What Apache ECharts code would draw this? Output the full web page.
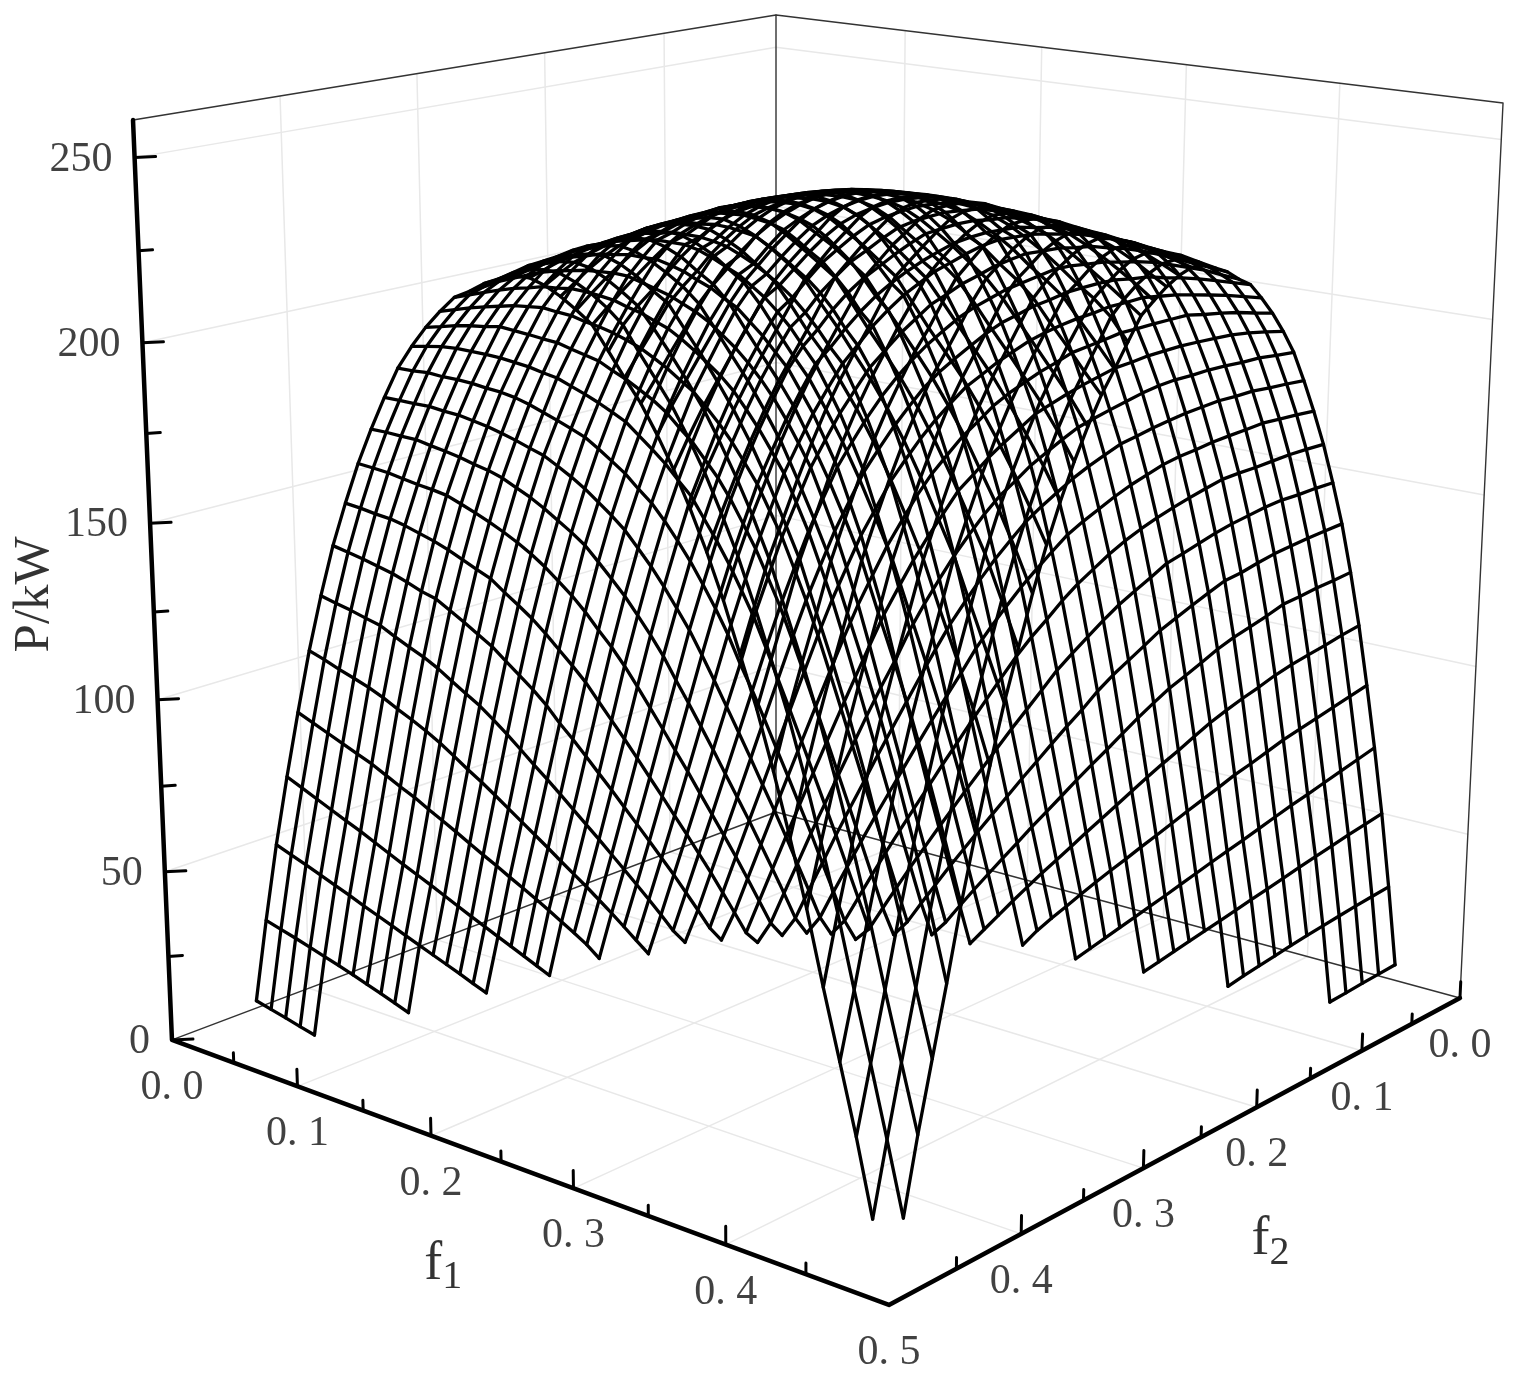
<!DOCTYPE html>
<html>
<head>
<meta charset="utf-8">
<title>P vs f1 f2</title>
<script src="https://cdn.jsdelivr.net/npm/echarts@6/dist/echarts.min.js"></script>
<style>
html, body { margin: 0; background: #fff; }
#main { width: 1518px; height: 1382px; }
</style>
</head>
<body>
<div id="main"></div>
<script>
const fGrid = [0.07, 0.08, 0.09, 0.10, 0.11, 0.12, 0.13, 0.14, 0.15, 0.16, 0.17, 0.18, 0.19, 0.20, 0.21, 0.22, 0.23, 0.24, 0.25, 0.26, 0.27, 0.28,
	0.29, 0.30, 0.31, 0.32, 0.33, 0.34, 0.35, 0.36, 0.37, 0.38, 0.39, 0.40, 0.41, 0.42, 0.43, 0.44, 0.45, 0.46, 0.47, 0.48, 0.49, 0.50];

// P in kW, one row per f1 in fGrid. Each row runs up to f2 = 0.50, the surface is mirrored over f1 = f2
const powerRows = [
	[4.5, 8.6, 12.8, 16.9, 21],
	[3, 7.5, 11.9, 16.2, 20.6, 24.9, 29.1, 33.3, 37.5, 41.6, 45.7],
	[2.5, 6.9, 11.4, 15.8, 20.2, 24.6, 29, 33.5, 37.9, 42.3, 46.8, 51.2, 55.6, 60, 64.3, 68.6],
	[3, 7.5, 12, 16.5, 21, 25.5, 30, 34.6, 39.2, 43.8, 48.3, 52.8, 57.4, 62, 66.6, 71, 75.5, 80, 84.5, 89],
	[5, 10.8, 15.9, 20.8, 25.8, 30.7, 35.5, 40.2, 45, 49.7, 54.5, 59.3, 64, 68.7, 73.5, 77.9, 82.5, 87.1, 91.3, 95.5, 99.7, 103.9, 108.1],
	[3.2, 8.9, 14.6, 20.3, 25.8, 31.3, 36.6, 41.9, 47.3, 52.6, 57.9, 63.2, 68.5, 73.7, 78.7, 83.9, 89, 93.7, 98.2, 102.5, 107, 111.1, 114.9, 118.6, 122.5, 126.2],
	[5, 10.2, 16.6, 22.8, 28.9, 34.9, 40.9, 46.9, 52.7, 58.6, 64.5, 70.3, 75.9, 81.7, 87.4, 92.9, 98.2, 102.9, 107.7, 112.6, 117, 121, 125.1, 129.4, 132.6, 135.9, 139, 142.2],
	[4, 9.3, 16.4, 23.3, 30.2, 36.8, 43.4, 49.9, 56.4, 62.9, 69.2, 75.6, 81.9, 87.9, 94.4, 100.2, 105.5, 110.8, 116.2, 120.8, 125.4, 129.9, 134.3, 137.5, 141.2, 144.7, 147.8, 150.9, 153.8, 156.7],
	[1.5, 6.1, 13.9, 21.6, 29.2, 36.5, 43.8, 50.9, 58.1, 65.1, 72.2, 79.2, 86, 92.8, 99.7, 105.7, 111.5, 117.3, 122.8, 127.7, 132.5, 137.5, 141.2, 145, 148.8, 152.3, 155.5, 158.7, 161.6, 164, 166.6, 169],
	[3.5, 8.9, 17.3, 25.7, 33.9, 41.9, 49.7, 57.5, 65.4, 73, 80.7, 88.2, 95.7, 103, 109.7, 115.8, 122.2, 128, 133.2, 138.4, 143.1, 147.4, 151.4, 155.2, 158.8, 162.3, 165.7, 168.3, 170.7, 173.3, 175.9, 178.2, 180.4],
	[4, 10.2, 19.5, 28.5, 37.4, 46.2, 54.7, 63.2, 71.7, 80, 88.2, 96.2, 104.5, 111.8, 118.7, 125.4, 131.5, 137.4, 143.2, 147.9, 152.3, 156.7, 160.8, 164.5, 168.2, 171.3, 174, 176.9, 179.5, 182, 184.6, 186.5, 188.5, 190.3],
	[20.2, 29.9, 39.7, 49.1, 58.3, 67.6, 76.7, 85.7, 94.7, 103.4, 111.9, 119.4, 126.8, 133.7, 140, 146.2, 151.4, 156.2, 161, 165.3, 169.3, 173.2, 176.2, 179.3, 182.2, 185, 187.5, 190, 192, 194.2, 195.9, 197.7, 199.4],
	[40.5, 50.6, 60.7, 70.6, 80.6, 90.3, 99.4, 109.3, 118, 126.1, 133.9, 140.9, 147.6, 153.7, 158.7, 164, 168.5, 172.9, 177.1, 180.4, 183.6, 186.7, 189.8, 192.6, 195, 197, 199.2, 201.1, 202.8, 204.8, 206.2, 207.8],
	[61.5, 72.3, 83, 93.5, 103.9, 114.1, 123, 131.7, 139.6, 147, 154.4, 159.9, 165.6, 170.6, 175.4, 180.2, 183.8, 187.3, 190.6, 193.7, 196.8, 199.1, 201.6, 203.7, 205.8, 207.6, 209.3, 211, 212.3, 213.3, 214.2],
	[83.8, 95.2, 106.4, 117.1, 126.7, 136.1, 144.3, 152.3, 159.4, 165.5, 171.5, 176.5, 181.7, 186, 189.8, 193.5, 196.8, 200.3, 202.8, 205.3, 207.9, 209.8, 211.8, 213.7, 215.6, 216.5, 217.6, 218.5, 219.1, 219.8],
	[107.3, 118.7, 129.1, 139.3, 147.9, 156.5, 163.5, 170.3, 176.4, 181.9, 187.2, 191.3, 195.5, 199.2, 202.8, 205.8, 208.6, 211.1, 213.3, 215.8, 217.6, 219.6, 220.7, 221.8, 222.5, 223.2, 223.8, 224.2, 224.6],
	[129.8, 140.7, 150.1, 159.4, 166.7, 173.8, 180.2, 186.3, 191.4, 195.8, 200.1, 204.2, 207.9, 210.8, 213.8, 216.2, 218.9, 220.9, 222.8, 224.4, 225.4, 226.6, 227.1, 227.8, 228.2, 228.5, 228.7, 228.9],
	[150.9, 160.9, 168.8, 176.4, 183.3, 189.4, 194.9, 199.9, 204.3, 208.6, 212.2, 215.3, 218.4, 220.9, 223.4, 225.9, 227.5, 228.7, 229.9, 230.6, 231.4, 231.9, 232, 232, 232, 231.5, 231.1],
	[169.5, 177.9, 185.1, 192.2, 197.6, 203, 207.7, 212.4, 215.8, 219.4, 222.3, 225.4, 227.9, 230.2, 231.5, 233, 233.8, 234.8, 235.1, 235.6, 235.7, 235.5, 235.1, 234.6, 234.2, 233.8],
	[185.8, 193.4, 199.2, 205.2, 210.3, 215, 218.9, 222.8, 225.8, 228.9, 231.7, 233.9, 235.3, 236.7, 237.5, 238.1, 238.7, 238.9, 239.1, 238.8, 238.1, 237.7, 237.4, 236.5, 235.6],
	[198.7, 204.6, 210, 214.9, 219.1, 222.9, 226.4, 229.5, 232.5, 234.7, 236.6, 238, 239.4, 239.9, 240.7, 240.9, 240.6, 240.4, 240.1, 240, 239.3, 238.5, 237.8, 237.1],
	[210.7, 216, 220.5, 224.3, 228.2, 231.8, 235.1, 237.1, 239, 240.5, 241.4, 242.6, 243.1, 243.5, 243.3, 242.7, 242.5, 242.1, 241.4, 240.6, 239.8, 238.6, 237.4],
	[221, 225.8, 229.4, 233.2, 236.7, 239.1, 241, 242.8, 243.9, 244.9, 245.2, 245.4, 245.2, 245.1, 244.9, 244.2, 243.5, 242.7, 241.6, 240.3, 238.4, 236.2],
	[230, 234.1, 237.7, 240.3, 242.5, 244.4, 245.7, 246.6, 247.4, 247.4, 247.2, 247.1, 246.8, 246.2, 245.5, 244.7, 243.5, 241.8, 239.6, 236.9, 234.2],
	[238.1, 241.1, 243.5, 245.5, 247, 248.1, 248.9, 249, 248.9, 249.1, 248.5, 247.8, 247.3, 246.2, 244.9, 242.8, 240.4, 237.7, 234.8, 231.6],
	[243.9, 246.2, 248, 249.2, 249.9, 250.2, 250.4, 250.4, 249.9, 249.4, 248.8, 247.5, 246.1, 243.8, 241.1, 238.2, 235.2, 232, 228.7],
	[248.3, 249.8, 250.7, 251.2, 251.4, 251.6, 251.2, 250.7, 250.2, 249, 247.2, 244.7, 242, 238.8, 235.4, 232.4, 228.5, 223],
	[251, 251.7, 252.2, 252.4, 252, 251.6, 250.9, 249.9, 247.9, 245.5, 242.7, 239.2, 236.2, 232.8, 227.5, 222.5, 217.2],
	[252.5, 252.9, 252.7, 252.4, 251.8, 250.6, 248.8, 246.1, 243.3, 239.8, 236.6, 232.7, 227.3, 222.2, 216.8, 211.7],
	[253, 252.9, 252.3, 251.2, 249.1, 246.4, 243.6, 240.3, 237, 232.6, 227.2, 221.9, 216.5, 211, 204.8],
	[252.6, 251.6, 249.6, 246.6, 243.7, 240.7, 237.2, 232.3, 226.8, 221.5, 216, 210.4, 204, 197.1],
	[249.8, 247, 244.2, 240.8, 237.4, 232.1, 226.7, 221.3, 215.9, 209.7, 203.1, 196.2, 188.3],
	[244.3, 241.1, 237.9, 232.2, 226.5, 221.2, 215.8, 209.5, 202.6, 195.2, 187.1, 178.5],
	[238, 232.4, 227.1, 221.7, 216.1, 209.7, 202.6, 194.5, 186.5, 177.4, 167.5],
	[226.7, 221.4, 215.7, 209.4, 202.1, 194.1, 185.4, 176.7, 166, 155],
	[215.8, 209.4, 202.2, 194, 185.1, 176.1, 164.8, 153.7, 142.5],
	[202.2, 194, 185, 175.6, 163.9, 152.8, 141.1, 128],
	[185, 175.6, 163.7, 152.1, 140, 126.6, 112.3],
	[163.5, 151.8, 139.4, 125.6, 111, 95.6],
	[139.2, 125.3, 110.2, 94.4, 76.8],
	[110, 93.7, 75.9, 59],
	[75.6, 58.3, 41],
	[40, 21],
	[]
];

const fTicks = [0, 0.1, 0.2, 0.3, 0.4, 0.5];
const fMinorTicks = [0.05, 0.15, 0.25, 0.35, 0.45];
const fTickLabels = ['0. 0', '0. 1', '0. 2', '0. 3', '0. 4', '0. 5'];
const pTicks = [0, 50, 100, 150, 200, 250];
const pMinorTicks = [25, 75, 125, 175, 225];
const pTickLabels = ['0', '50', '100', '150', '200', '250'];
const F_MAX = 0.5;
const P_MAX = 260;

// the box as drawn in the figure, fitted on its visible corners
function project(f1, f2, p) {
	const X = f1 / F_MAX, Y = f2 / F_MAX, Z = p / P_MAX;
	const w = 1 - 0.12895 * X - 0.14872 * Y - 0.0516 * Z;
	return [
		(495.7 * X - 629.6 * Y + 776 - 40.04 * Z) / w,
		(57.3 * X + 73.3 * Y + 812 + Z * (-797.8 + 12.9 * X + 8.5 * Y)) / w
	];
}

function powerAt(i, j) {
	const row = powerRows[Math.min(i, j)];
	const k = Math.max(i, j) - (fGrid.length - row.length);
	return k >= 0 && k < row.length ? row[k] : null;
}

function line(points, color, width) {
	return {
		type: 'line',
		data: points,
		symbol: 'none',
		silent: true,
		animation: false,
		clip: false,
		lineStyle: { color: color, width: width, cap: 'round', join: 'round' }
	};
}

function path3d(list, color, width) {
	return line(list.map(p => project(p[0], p[1], p[2])), color, width);
}

const series = [];
const GRID_COLOR = '#e8e8e8';
const EDGE_COLOR = '#333';

// pale grid on the floor and both back walls
fTicks.slice(1, -1).forEach(f => {
	series.push(path3d([[f, F_MAX, 0], [f, 0, 0], [f, 0, P_MAX]], GRID_COLOR, 1.5));
	series.push(path3d([[F_MAX, f, 0], [0, f, 0], [0, f, P_MAX]], GRID_COLOR, 1.5));
});
pTicks.slice(1).forEach(p => {
	series.push(path3d([[0, F_MAX, p], [0, 0, p], [F_MAX, 0, p]], GRID_COLOR, 1.5));
});

// thin box edges
series.push(path3d([[0, F_MAX, 0], [0, 0, 0], [F_MAX, 0, 0]], EDGE_COLOR, 1.4));
series.push(path3d([[0, 0, 0], [0, 0, P_MAX]], EDGE_COLOR, 1.4));
series.push(path3d([[0, F_MAX, P_MAX], [0, 0, P_MAX], [F_MAX, 0, P_MAX], [F_MAX, 0, 0]], EDGE_COLOR, 1.4));

// the surface, one wire per grid value in both directions
fGrid.forEach((fixed, i) => {
	const alongF2 = [], alongF1 = [];
	fGrid.forEach((moving, j) => {
		const p = powerAt(i, j);
		if (p === null) return;
		alongF2.push(project(fixed, moving, p));
		alongF1.push(project(moving, fixed, p));
	});
	series.push(line(alongF2, '#000', 3.3));
	series.push(line(alongF1, '#000', 3.3));
});

// bold axes and their ticks
series.push(path3d([[0, F_MAX, P_MAX], [0, F_MAX, 0], [F_MAX, F_MAX, 0], [F_MAX, 0, 0]], '#000', 4.5));
function floorTicks(list, height) {
	list.forEach(f => {
		if (f === F_MAX) return;
		series.push(path3d([[f, F_MAX, 0], [f, F_MAX, height]], '#000', 3));
		series.push(path3d([[F_MAX, f, 0], [F_MAX, f, height]], '#000', 3));
	});
}
floorTicks(fTicks.slice(1), 5);
floorTicks(fMinorTicks, 3);
series.push(path3d([[F_MAX, 0, 0], [F_MAX, 0, 5]], '#000', 3));
function powerTicks(list, length) {
	list.forEach(p => {
		const a = project(0, F_MAX, p);
		series.push(line([a, [a[0] + length, a[1] - 1]], '#000', 3));
	});
}
powerTicks(pTicks, 21);
powerTicks(pMinorTicks, 14);

// all text
const labelData = [];
function addLabel(name, at, dx, dy, style) {
	labelData.push({
		name: name,
		value: [at[0] + dx, at[1] + dy],
		label: Object.assign({ show: true, position: 'inside', formatter: '{b}', fontFamily: 'Liberation Serif', fontSize: 42, color: '#111' }, style)
	});
}
fTicks.forEach((f, i) => {
	addLabel(fTickLabels[i], project(f, F_MAX, 0), 0, 48);
	if (f !== F_MAX) addLabel(fTickLabels[i], project(F_MAX, f, 0), 0, 48);
});
pTicks.forEach((p, i) => {
	addLabel(pTickLabels[i], project(0, F_MAX, p), -22, 2, { align: 'right' });
});
addLabel('P/kW', project(0, F_MAX, 130), -118, 0, { rotate: 90, fontSize: 51, color: '#000' });
function subLabel(name, sub, at) {
	addLabel(name + sub, at, 0, 0, {
		formatter: '{a|' + name + '}{b|' + sub + '}',
		rich: {
			a: { fontFamily: 'Liberation Serif', fontSize: 54, color: '#000' },
			b: { fontFamily: 'Liberation Serif', fontSize: 40, color: '#000', padding: [26, 0, 0, 0] }
		}
	});
}
subLabel('f', '1', project(0.28, F_MAX, 0).map((v, i) => v + [-101, 87][i]));
subLabel('f', '2', project(F_MAX, 0.3, 0).map((v, i) => v + [127, 72][i]));
series.push({ type: 'scatter', symbolSize: 0, silent: true, animation: false, clip: false, data: labelData, z: 5 });

const chart = echarts.init(document.getElementById('main'));
chart.setOption({
	backgroundColor: '#fff',
	grid: { left: 0, right: 0, top: 0, bottom: 0 },
	xAxis: { type: 'value', min: 0, max: 1518, show: false },
	yAxis: { type: 'value', min: 0, max: 1382, inverse: true, show: false },
	series: series
});
</script>
</body>
</html>
